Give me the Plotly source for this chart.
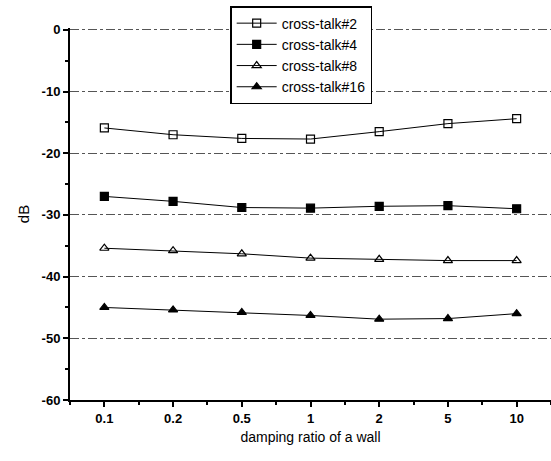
import plotly.graph_objects as go

categories = ["0.1", "0.2", "0.5", "1", "2", "5", "10"]
ct2 = [-15.9, -17.0, -17.6, -17.7, -16.5, -15.2, -14.4]
ct4 = [-27.0, -27.8, -28.8, -28.9, -28.6, -28.5, -29.0]
ct8 = [-35.4, -35.8, -36.3, -37.0, -37.2, -37.4, -37.4]
ct16 = [-45.0, -45.4, -45.8, -46.3, -46.9, -46.8, -46.0]
y_ticks = [0, -10, -20, -30, -40, -50, -60]
y_ticktext = ["0", "-10", "-20", "-30", "-40", "-50", "-60"]

xs = list(range(len(categories)))
series = [
    ("cross-talk#2", ct2, "square-open"),
    ("cross-talk#4", ct4, "square"),
    ("cross-talk#8", ct8, "triangle-up-open"),
    ("cross-talk#16", ct16, "triangle-up"),
]

fig = go.Figure()
for name, vals, sym in series:
    fig.add_trace(go.Scatter(
        x=xs, y=vals, name=name, mode="lines+markers",
        line=dict(color="black", width=1),
        marker=dict(symbol=sym, size=8, color="black",
                    line=dict(color="black", width=1.2)),
    ))

font = dict(family="Liberation Sans, Arial, sans-serif", color="black")
fig.update_layout(
    width=551, height=461,
    margin=dict(l=70, r=0, t=28, b=61),
    paper_bgcolor="white", plot_bgcolor="white",
    font=dict(size=13, **font),
    showlegend=True,
    legend=dict(x=0.333, y=1.059, xanchor="left", yanchor="top",
                bgcolor="white", bordercolor="black", borderwidth=1.5,
                font=dict(size=14, **font), tracegroupgap=0, itemwidth=40),
)
fig.update_xaxes(
    range=[-0.5, 6.5], tickmode="array", tickvals=xs, ticktext=categories,
    showline=True, linecolor="black", linewidth=2,
    ticks="outside", ticklen=5, tickwidth=2, tickcolor="black",
    minor=dict(tick0=0.5, dtick=1, ticks="outside", ticklen=3, tickwidth=1.5, tickcolor="black"),
    showgrid=False, zeroline=False,
    title=dict(text="damping ratio of a wall", font=dict(size=14, **font), standoff=8),
    tickfont=dict(size=13, weight="bold", **font),
)
fig.update_yaxes(
    range=[-60, 0.3], tickmode="array", tickvals=y_ticks, ticktext=y_ticktext,
    showline=True, linecolor="black", linewidth=2,
    ticks="outside", ticklen=5, tickwidth=2, tickcolor="black",
    minor=dict(tick0=-5, dtick=10, ticks="outside", ticklen=3, tickwidth=1.5, tickcolor="black", showgrid=False),
    showgrid=True, gridcolor="#555555", gridwidth=1, griddash="dashdot",
    zeroline=False,
    title=dict(text="dB", font=dict(size=15, **font), standoff=8),
    tickfont=dict(size=13, weight="bold", **font),
)
fig.write_html("out.html")
